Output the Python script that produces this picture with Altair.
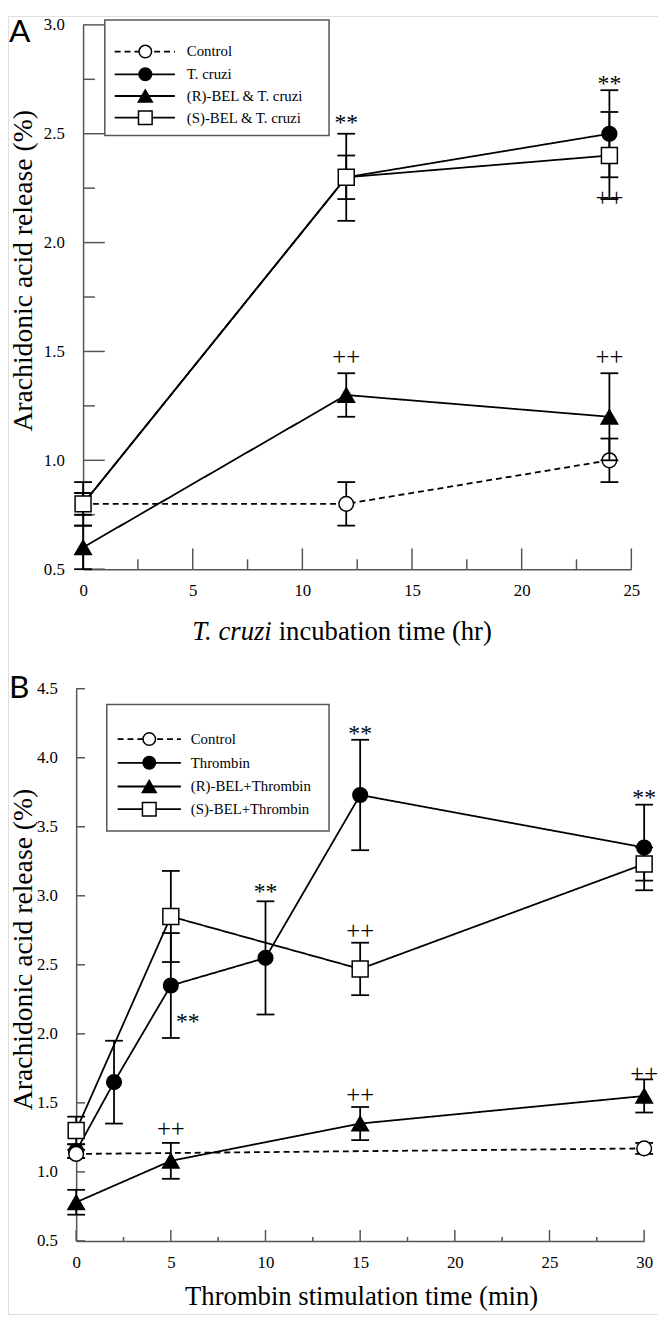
import altair as alt
import pandas as pd

# ---------------- Panel A data (T. cruzi incubation) ----------------
a_time = [0, 12, 24]
a_names = ["Control", "T. cruzi", "(R)-BEL & T. cruzi", "(S)-BEL & T. cruzi"]
a_control = [0.8, 0.8, 1.0]
a_control_err = [0.05, 0.1, 0.1]
a_tcruzi = [0.8, 2.3, 2.5]
a_tcruzi_err = [0.05, 0.2, 0.2]
a_rbel = [0.6, 1.3, 1.2]
a_rbel_err = [0.1, 0.1, 0.2]
a_sbel = [0.8, 2.3, 2.4]
a_sbel_err = [0.1, 0.1, 0.2]
a_ann_x = [12, 24, 12, 24, 24]
a_ann_y = [2.57, 2.75, 1.47, 1.47, 2.2]
a_ann_t = ["**", "**", "++", "++", "++"]
a_y_labels = [0.5, 1.0, 1.5, 2.0, 2.5, 3.0]
a_y_minor = [0.75, 1.25, 1.75, 2.25, 2.75]
a_x_labels = [0, 5, 10, 15, 20, 25]
a_x_minor = [2.5, 7.5, 12.5, 17.5, 22.5]

# ---------------- Panel B data (thrombin stimulation) ----------------
b_names = ["Control", "Thrombin", "(R)-BEL+Thrombin", "(S)-BEL+Thrombin"]
b_time_ctrl = [0, 30]
b_control = [1.13, 1.17]
b_control_err = [0.03, 0.04]
b_time_thr = [0, 2, 5, 10, 15, 30]
b_thrombin = [1.15, 1.65, 2.35, 2.55, 3.73, 3.35]
b_thrombin_err = [0.05, 0.3, 0.38, 0.41, 0.4, 0.31]
b_time = [0, 5, 15, 30]
b_rbel = [0.78, 1.08, 1.35, 1.55]
b_rbel_err = [0.09, 0.13, 0.12, 0.12]
b_sbel = [1.3, 2.85, 2.47, 3.23]
b_sbel_err = [0.1, 0.33, 0.19, 0.12]
b_ann_x = [15, 10, 30, 5.9, 15, 5, 15, 30]
b_ann_y = [4.21, 3.06, 3.74, 2.12, 2.74, 1.30, 1.55, 1.70]
b_ann_t = ["**", "**", "**", "**", "++", "++", "++", "++"]
b_y_labels = [0.5, 1.0, 1.5, 2.0, 2.5, 3.0, 3.5, 4.0, 4.5]
b_x_labels = [0, 5, 10, 15, 20, 25, 30]
b_x_minor = [2.5, 7.5, 12.5, 17.5, 22.5, 27.5]

FONT = "Liberation Serif"
AXC = "#555555"
LW = 1.8
W, H = 658, 1314  # whole drawing area (one view, pixels)
DRAW_ORDER = [1, 0, 2, 3]  # series drawing order (legend keeps the listed order)

STYLES = [
    dict(shape="circle", fill="white", dash=[6, 4], size=220, lsize=160),
    dict(shape="circle", fill="black", dash=[1, 0], size=220, lsize=160),
    dict(shape="triangle-up", fill="black", dash=[1, 0], size=280, lsize=200),
    dict(shape="square", fill="white", dash=[1, 0], size=260, lsize=190),
]

ONE = pd.DataFrame({"k": [0]})


def make_panel(cfg):
    x0, x1 = cfg["xr"]
    yb, yt = cfg["yr"]
    xs = alt.Scale(domain=cfg["xdom"], range=[x0, x1], nice=False, zero=False)
    ys = alt.Scale(domain=cfg["ydom"], range=[yb, yt], nice=False, zero=False)
    xaxis = alt.Axis(values=cfg["xlab"], format="d", title=None, ticks=False, tickSize=0,
                     grid=False, domainColor=AXC, domainWidth=1.5, labelFont=FONT,
                     labelFontSize=17, labelColor="black", labelPadding=14,
                     labelFlush=False, orient="bottom", offset=yb - H)
    yaxis = alt.Axis(values=cfg["ylab"], format=".1f", title=None, ticks=False, tickSize=0,
                     grid=False, domainColor=AXC, domainWidth=1.5, labelFont=FONT,
                     labelFontSize=17, labelColor="black", labelPadding=19,
                     labelFlush=False, orient="left", offset=-x0)

    def X(f):
        return alt.X(f"{f}:Q", scale=xs, axis=xaxis)

    def Y(f):
        return alt.Y(f"{f}:Q", scale=ys, axis=yaxis)

    layers = []
    # inward axis ticks
    for vals, ln in cfg["yticks"]:
        layers.append(alt.Chart(pd.DataFrame({"v": vals})).mark_rule(color=AXC, strokeWidth=1.5)
                      .encode(y=Y("v"), x=alt.value(x0), x2=alt.value(x0 + ln)))
    for vals, ln in cfg["xticks"]:
        layers.append(alt.Chart(pd.DataFrame({"v": vals})).mark_rule(color=AXC, strokeWidth=1.5)
                      .encode(x=X("v"), y=alt.value(yb), y2=alt.value(yb - ln)))

    # series: error bars, caps, line, markers
    for i in DRAW_ORDER:
        xv, yv, ev = cfg["series"][i]
        st = STYLES[i]
        df = pd.DataFrame({"x": xv, "y": yv,
                           "lo": [a - b for a, b in zip(yv, ev)],
                           "hi": [a + b for a, b in zip(yv, ev)]})
        caps = pd.DataFrame({"x": list(xv) + list(xv),
                             "cap": list(df["lo"]) + list(df["hi"])})
        layers.append(alt.Chart(df).mark_rule(color="black", strokeWidth=LW)
                      .encode(x=X("x"), y=Y("lo"), y2="hi"))
        layers.append(alt.Chart(caps).mark_point(shape="M-1,0L1,0", size=324, stroke="black",
                                                 strokeWidth=LW, filled=False, opacity=1)
                      .encode(x=X("x"), y=Y("cap")))
        layers.append(alt.Chart(df).mark_line(color="black", strokeWidth=LW, strokeDash=st["dash"])
                      .encode(x=X("x"), y=Y("y")))
        layers.append(alt.Chart(df).mark_point(shape=st["shape"], size=st["size"], filled=True,
                                               fill=st["fill"], stroke="black", strokeWidth=1.5,
                                               opacity=1)
                      .encode(x=X("x"), y=Y("y")))

    # significance marks
    ax, ay, at = cfg["ann"]
    adf = pd.DataFrame({"x": ax, "y": ay, "t": at})
    layers.append(alt.Chart(adf).transform_filter(alt.datum.t == "**")
                  .mark_text(font=FONT, fontSize=24, color="black", baseline="middle", dy=5)
                  .encode(x=X("x"), y=Y("y"), text="t:N"))
    layers.append(alt.Chart(adf).transform_filter(alt.datum.t == "++")
                  .mark_text(font=FONT, fontSize=25, color="black", baseline="middle", dy=-1)
                  .encode(x=X("x"), y=Y("y"), text="t:N"))

    # legend box
    lg = cfg["legend"]
    layers.append(alt.Chart(ONE).mark_rect(fill="white", stroke=AXC, strokeWidth=1.5)
                  .encode(x=alt.value(lg["box"][0]), x2=alt.value(lg["box"][1]),
                          y=alt.value(lg["box"][2]), y2=alt.value(lg["box"][3])))
    for i, name in enumerate(cfg["names"]):
        st = STYLES[i]
        ry = lg["rows"][i]
        layers.append(alt.Chart(ONE).mark_rule(color="black", strokeWidth=LW, strokeDash=st["dash"])
                      .encode(x=alt.value(lg["line"][0]), x2=alt.value(lg["line"][1]),
                              y=alt.value(ry)))
        layers.append(alt.Chart(ONE).mark_point(shape=st["shape"], size=st["lsize"], filled=True,
                                                fill=st["fill"], stroke="black", strokeWidth=1.5,
                                                opacity=1)
                      .encode(x=alt.value(lg["marker"]), y=alt.value(ry)))
        layers.append(alt.Chart(ONE).mark_text(text=name, font=FONT, fontSize=15, color="black",
                                               align="left", baseline="middle")
                      .encode(x=alt.value(lg["text"]), y=alt.value(ry)))

    # axis titles
    layers.append(alt.Chart(ONE).mark_text(text="Arachidonic acid release (%)", font=FONT,
                                           fontSize=28, angle=270, align="center",
                                           baseline="alphabetic", color="black")
                  .encode(x=alt.value(cfg["ytitle"][0]), y=alt.value(cfg["ytitle"][1])))
    for part in cfg["xtitle"]:
        layers.append(alt.Chart(ONE).mark_text(text=part["t"], font=FONT, fontSize=27,
                                               fontStyle=part["style"], align=part["align"],
                                               baseline="alphabetic", color="black")
                      .encode(x=alt.value(part["x"]), y=alt.value(cfg["xtitle_y"])))
    # panel letter
    layers.append(alt.Chart(ONE).mark_text(text=cfg["letter"][0], font="Lato", fontSize=32,
                                           align="left", baseline="top", color="black")
                  .encode(x=alt.value(cfg["letter"][1]), y=alt.value(cfg["letter"][2])))

    return alt.layer(*layers)


panel_a = make_panel(dict(
    xr=(76, 631), yr=(560, 9), xdom=[0, 25], ydom=[0.5, 3.0], xlab=a_x_labels, ylab=a_y_labels,
    yticks=[(a_y_labels, 22), (a_y_minor, 12)],
    xticks=[(a_x_labels, 21), (a_x_minor, 10)],
    series=[(a_time, a_control, a_control_err), (a_time, a_tcruzi, a_tcruzi_err),
            (a_time, a_rbel, a_rbel_err), (a_time, a_sbel, a_sbel_err)],
    ann=(a_ann_x, a_ann_y, a_ann_t),
    names=a_names,
    legend=dict(box=(98, 325, 4, 121), rows=[36, 59, 81, 103], line=(108, 169), marker=139, text=181),
    ytitle=(24, 258),
    xtitle=[dict(t="T. cruzi", style="italic", align="right", x=267),
            dict(t="incubation time (hr)", style="normal", align="left", x=274)],
    xtitle_y=632,
    letter=("A", 1, 1),
))

panel_b = make_panel(dict(
    xr=(69, 644), yr=(1240, 681), xdom=[0, 30], ydom=[0.5, 4.5], xlab=b_x_labels, ylab=b_y_labels,
    yticks=[(b_y_labels, 9)],
    xticks=[(b_x_labels, 11), (b_x_minor, 4)],
    series=[(b_time_ctrl, b_control, b_control_err), (b_time_thr, b_thrombin, b_thrombin_err),
            (b_time, b_rbel, b_rbel_err), (b_time, b_sbel, b_sbel_err)],
    ann=(b_ann_x, b_ann_y, b_ann_t),
    names=b_names,
    legend=dict(box=(100, 325, 697, 825), rows=[732, 756, 780, 803], line=(111, 175), marker=143, text=185),
    ytitle=(24, 945),
    xtitle=[dict(t="Thrombin stimulation time (min)", style="normal", align="center", x=358)],
    xtitle_y=1305,
    letter=("B", 1, 665),
))

chart = alt.layer(panel_a, panel_b).resolve_scale(
    x="independent", y="independent"
).resolve_axis(
    x="independent", y="independent"
).properties(
    width=W, height=H, padding=0, autosize=alt.AutoSizeParams(type="none")
).configure_view(strokeWidth=0).configure(background="white")

chart.save("out.html", embed_options={"renderer": "svg", "actions": False})
